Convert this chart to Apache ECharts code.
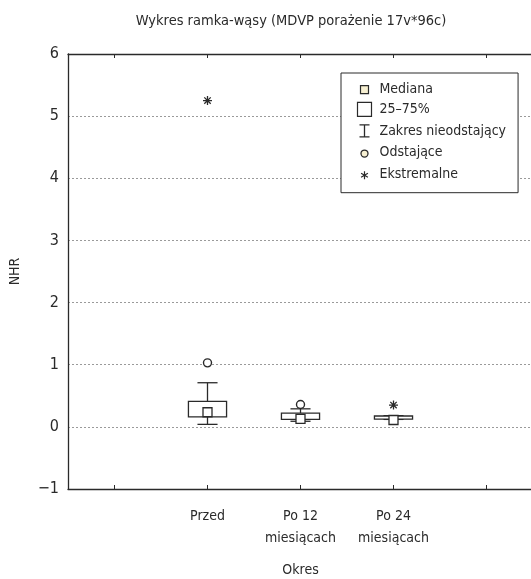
<!DOCTYPE html>
<html>
<head>
<meta charset="utf-8">
<script src="https://cdn.jsdelivr.net/npm/echarts@6/dist/echarts.min.js"></script>
<style>
html,body{margin:0;padding:0;background:#fff;}
#chart{width:531px;height:579px;}
</style>
</head>
<body>
<div id="chart"></div>
<script>
// ---- data ----
const categories = ['', 'Przed', 'Po 12\nmiesiącach', 'Po 24\nmiesiącach', ''];
const groups = ['Przed', 'Po 12\nmiesiącach', 'Po 24\nmiesiącach'];
const whiskerLow  = [0.04, 0.09, 0.12];
const q1          = [0.16, 0.12, 0.125];
const median      = [0.235, 0.13, 0.11];
const q3          = [0.41, 0.22, 0.175];
const whiskerHigh = [0.71, 0.29, 0.18];
const outlierGroups = ['Przed', 'Po 12\nmiesiącach'];
const outlierValues = [1.03, 0.36];
const extremeGroups = ['Przed', 'Po 24\nmiesiącach'];
const extremeValues = [5.25, 0.35];
const yTickValues = [-1, 0, 1, 2, 3, 4, 5, 6];
const yTickLabels = ['\u22121', '0', '1', '2', '3', '4', '5', '6'];

const FONT = "'Liberation Sans Narrow', 'DejaVu Sans Condensed', 'Noto Sans', sans-serif";
const INK = '#2a2a2a';
const CREAM = '#f7f0d2';

const STAR = 'path://M0 4.5 H9 M4.5 0 V9 M1.3 1.3 L7.7 7.7 M1.3 7.7 L7.7 1.3';

const chart = echarts.init(document.getElementById('chart'));

const option = {
  animation: false,
  backgroundColor: '#fff',
  textStyle: { fontFamily: FONT },
  title: {
    text: 'Wykres ramka-wąsy (MDVP porażenie 17v*96c)',
    left: 286, textAlign: 'center', top: 9,
    textStyle: { fontFamily: FONT, fontSize: 14.5, fontWeight: 'normal', color: INK }
  },
  grid: { left: 68, right: -2, top: 54, bottom: 90, containLabel: false, outerBoundsMode: 'none' },
  legend: {
    orient: 'vertical',
    left: 341, top: 73,
    padding: [8, 12, 8, 13],
    itemWidth: 16, itemHeight: 16, itemGap: 2.5,
    selectedMode: false,
    backgroundColor: '#fff',
    borderColor: INK, borderWidth: 1,
    textStyle: { fontFamily: FONT, fontSize: 14, lineHeight: 16, color: INK, padding: [0, 0, 0, 2] },
    data: [
      { name: 'Mediana', icon: 'path://M0 0 M16 16 M4 4 H12 V12 H4 Z',
        itemStyle: { color: CREAM, borderColor: INK, borderWidth: 1.2 } },
      { name: '25\u201375%', icon: 'path://M0 0 M16 16 M1 1 H15 V15 H1 Z',
        itemStyle: { color: '#fff', borderColor: INK, borderWidth: 1.2 } },
      { name: 'Zakres nieodstający', icon: 'path://M0 0 M16 16 M3 2 H13 M8 2 V14 M3 14 H13',
        itemStyle: { color: 'none', borderColor: INK, borderWidth: 1.3 } },
      { name: 'Odstające', icon: 'path://M0 0 M16 16 M4.5 9 A3.5 3.5 0 1 0 11.5 9 A3.5 3.5 0 1 0 4.5 9 Z',
        itemStyle: { color: CREAM, borderColor: INK, borderWidth: 1.3 } },
      { name: 'Ekstremalne', icon: 'path://M0 0 M16 16 M8 5 V13 M4.6 7 L11.4 11 M4.6 11 L11.4 7',
        itemStyle: { color: 'none', borderColor: INK, borderWidth: 1.2 } }
    ]
  },
  xAxis: [
    {
      type: 'category', data: categories, position: 'bottom',
      name: 'Okres', nameLocation: 'middle', nameGap: 74,
      nameTextStyle: { fontFamily: FONT, fontSize: 14, color: INK },
      axisLine: { onZero: false, lineStyle: { color: INK, width: 1.3 } },
      axisTick: { show: true, inside: true, alignWithLabel: true, length: 4, lineStyle: { color: INK } },
      axisLabel: { fontFamily: FONT, fontSize: 14, color: INK, margin: 16, lineHeight: 22, interval: 0 },
      splitLine: { show: false }
    },
    {
      type: 'category', data: categories, position: 'top',
      axisLine: { onZero: false, lineStyle: { color: INK, width: 1.3 } },
      axisTick: { show: true, inside: true, alignWithLabel: true, length: 4, lineStyle: { color: INK } },
      axisLabel: { show: false },
      splitLine: { show: false }
    }
  ],
  yAxis: {
    type: 'value', min: -1, max: 6, interval: 1,
    name: 'NHR', nameLocation: 'middle', nameGap: 46, nameRotate: 90,
    nameTextStyle: { fontFamily: FONT, fontSize: 14, color: INK },
    axisLine: { show: true, onZero: false, lineStyle: { color: INK, width: 1.3 } },
    axisTick: { show: false },
    axisLabel: {
      fontFamily: FONT, fontSize: 16, color: INK, margin: 9,
      formatter: v => yTickLabels[yTickValues.indexOf(v)]
    },
    splitLine: { show: true, lineStyle: { color: '#9a9a9a', type: [2, 2], width: 1 } }
  },
  series: [
    {
      name: 'Zakres nieodstający', type: 'custom', z: 2,
      data: groups.map((g, i) => [g, whiskerLow[i], q1[i], q3[i], whiskerHigh[i]]),
      renderItem: (params, api) => {
        const x = api.value(0);
        const lo = api.coord([x, api.value(1)]);
        const b1 = api.coord([x, api.value(2)]);
        const b3 = api.coord([x, api.value(3)]);
        const hi = api.coord([x, api.value(4)]);
        const cap = api.size([1, 0])[0] * 0.216 / 2;
        const st = { stroke: INK, lineWidth: 1.3, fill: null };
        return {
          type: 'group',
          children: [
            { type: 'line', shape: { x1: hi[0], y1: hi[1], x2: b3[0], y2: b3[1] }, style: st },
            { type: 'line', shape: { x1: lo[0], y1: lo[1], x2: b1[0], y2: b1[1] }, style: st },
            { type: 'line', shape: { x1: hi[0] - cap, y1: hi[1], x2: hi[0] + cap, y2: hi[1] }, style: st },
            { type: 'line', shape: { x1: lo[0] - cap, y1: lo[1], x2: lo[0] + cap, y2: lo[1] }, style: st }
          ]
        };
      }
    },
    {
      name: '25\u201375%', type: 'custom', z: 3,
      data: groups.map((g, i) => [g, q1[i], q3[i]]),
      renderItem: (params, api) => {
        const x = api.value(0);
        const p1 = api.coord([x, api.value(1)]);
        const p3 = api.coord([x, api.value(2)]);
        const w = api.size([1, 0])[0] * 0.41;
        return {
          type: 'rect',
          shape: { x: p1[0] - w / 2, y: p3[1], width: w, height: p1[1] - p3[1] },
          style: { fill: '#fff', stroke: INK, lineWidth: 1.3 }
        };
      }
    },
    {
      name: 'Mediana', type: 'scatter', z: 4,
      symbol: 'rect', symbolSize: 9,
      itemStyle: { color: '#fff', borderColor: INK, borderWidth: 1.3, opacity: 1 },
      data: groups.map((g, i) => [g, median[i]])
    },
    {
      name: 'Odstające', type: 'scatter', z: 4,
      symbol: 'circle', symbolSize: 8,
      itemStyle: { color: '#fff', borderColor: INK, borderWidth: 1.4, opacity: 1 },
      data: outlierGroups.map((g, i) => [g, outlierValues[i]])
    },
    {
      name: 'Ekstremalne', type: 'scatter', z: 4,
      symbol: STAR, symbolSize: 9,
      itemStyle: { color: INK, borderColor: INK, borderWidth: 1.3, opacity: 1 },
      data: extremeGroups.map((g, i) => [g, extremeValues[i]])
    }
  ]
};
chart.setOption(option);
</script>
</body>
</html>
